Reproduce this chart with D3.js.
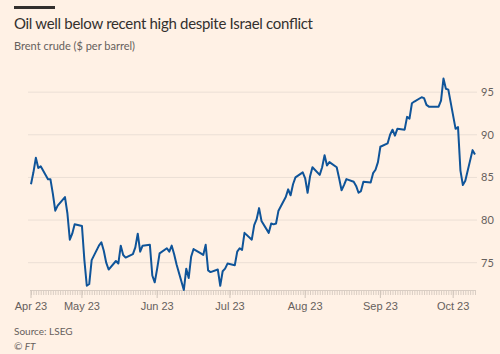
<!DOCTYPE html>
<html>
<head>
<meta charset="utf-8">
<script src="https://cdn.jsdelivr.net/npm/d3@7"></script>
<style>
  body { margin: 0; background: #fff1e5; }
  svg { display: block; font-family: Lato, "Noto Sans", sans-serif; }
  .title { font-size: 15px; fill: #33302e; }
  .subtitle { font-size: 11px; fill: #66605c; }
  .tick-label { font-size: 11px; fill: #66605c; }
  .source { font-size: 10px; fill: #66605c; }
</style>
</head>
<body>
<svg width="500" height="354"></svg>
<script>
// Brent crude, daily close ($ per barrel)
const dates = [
  '2023-04-10','2023-04-11','2023-04-12','2023-04-13','2023-04-14','2023-04-17','2023-04-18','2023-04-19','2023-04-20','2023-04-21',
  '2023-04-24','2023-04-25','2023-04-26','2023-04-27','2023-04-28','2023-05-01','2023-05-02','2023-05-03','2023-05-04','2023-05-05',
  '2023-05-08','2023-05-09','2023-05-10','2023-05-11','2023-05-12','2023-05-15','2023-05-16','2023-05-17','2023-05-18','2023-05-19',
  '2023-05-22','2023-05-23','2023-05-24','2023-05-25','2023-05-26','2023-05-29','2023-05-30','2023-05-31','2023-06-01','2023-06-02',
  '2023-06-05','2023-06-06','2023-06-07','2023-06-08','2023-06-09','2023-06-12','2023-06-13','2023-06-14','2023-06-15','2023-06-16',
  '2023-06-19','2023-06-20','2023-06-21','2023-06-22','2023-06-23','2023-06-26','2023-06-27','2023-06-28','2023-06-29','2023-06-30',
  '2023-07-03','2023-07-04','2023-07-05','2023-07-06','2023-07-07','2023-07-10','2023-07-11','2023-07-12','2023-07-13','2023-07-14',
  '2023-07-17','2023-07-18','2023-07-19','2023-07-20','2023-07-21','2023-07-24','2023-07-25','2023-07-26','2023-07-27','2023-07-28',
  '2023-07-31','2023-08-01','2023-08-02','2023-08-03','2023-08-04','2023-08-07','2023-08-08','2023-08-09','2023-08-10','2023-08-11',
  '2023-08-14','2023-08-15','2023-08-16','2023-08-17','2023-08-18','2023-08-21','2023-08-22','2023-08-23','2023-08-24','2023-08-25',
  '2023-08-28','2023-08-29','2023-08-30','2023-08-31','2023-09-01','2023-09-04','2023-09-05','2023-09-06','2023-09-07','2023-09-08',
  '2023-09-11','2023-09-12','2023-09-13','2023-09-14','2023-09-15','2023-09-18','2023-09-19','2023-09-20','2023-09-21','2023-09-22',
  '2023-09-25','2023-09-26','2023-09-27','2023-09-28','2023-09-29','2023-10-02','2023-10-03','2023-10-04','2023-10-05','2023-10-06',
  '2023-10-09','2023-10-10'
];
const prices = [
  84.2, 85.6, 87.3, 86.1, 86.3, 84.8, 84.8, 83.1, 81.1, 81.7,
  82.7, 80.8, 77.7, 78.4, 79.5, 79.3, 75.3, 72.3, 72.5, 75.3,
  77.0, 77.4, 76.4, 75.0, 74.2, 75.2, 74.9, 77.0, 75.9, 75.6,
  76.0, 76.8, 78.4, 76.3, 77.0, 77.1, 73.5, 72.7, 74.3, 76.1,
  76.7, 76.3, 77.0, 76.0, 74.8, 71.8, 74.3, 73.2, 75.7, 76.6,
  76.1, 75.9, 77.1, 74.1, 73.9, 74.2, 72.3, 74.0, 74.3, 74.9,
  74.7, 76.3, 76.7, 76.5, 78.5, 77.7, 79.4, 80.1, 81.4, 79.9,
  78.5, 79.6, 79.5, 79.6, 81.1, 82.7, 83.6, 82.9, 84.2, 85.0,
  85.6, 84.9, 83.2, 85.1, 86.2, 85.3, 86.2, 87.6, 86.4, 86.8,
  86.2, 84.9, 83.5, 84.1, 84.8, 84.5, 84.0, 83.2, 83.4, 84.5,
  84.4, 85.5, 85.9, 86.8, 88.6, 89.0, 90.0, 90.6, 89.9, 90.7,
  90.6, 92.1, 91.9, 93.7, 93.9, 94.4, 94.3, 93.5, 93.3, 93.3,
  93.3, 94.0, 96.6, 95.4, 95.3, 90.7, 90.9, 85.8, 84.1, 84.6,
  88.2, 87.7
];
const yTicks = [75, 80, 85, 90, 95];
const monthTicks = ['2023-04-10','2023-05-01','2023-06-01','2023-07-01','2023-08-01','2023-09-01','2023-10-01'];
const monthLabels = ['Apr 23','May 23','Jun 23','Jul 23','Aug 23','Sep 23','Oct 23'];

const svg = d3.select("svg");
const parseDate = d3.timeParse('%Y-%m-%d');

const render = data => {
  const xValue = d => d.date;
  const yValue = d => d.price;

  const xScale = d3.scaleTime()
    .domain(d3.extent(data, xValue))
    .range([31, 475]);

  const yScale = d3.scaleLinear()
    .domain(d3.extent(data, yValue))
    .range([290, 78.5]);

  // header
  svg.append('rect')
    .attr('x', 14).attr('y', 6)
    .attr('width', 41).attr('height', 3)
    .attr('fill', '#33302e');

  svg.append('text')
    .attr('class', 'title')
    .attr('x', 14).attr('y', 29)
    .attr('textLength', 299)
    .text('Oil well below recent high despite Israel conflict');

  svg.append('text')
    .attr('class', 'subtitle')
    .attr('x', 14).attr('y', 50)
    .text('Brent crude ($ per barrel)');

  // gridlines + right labels
  const yAxisG = svg.append('g');
  yAxisG.selectAll('line')
    .data(yTicks)
    .join('line')
      .attr('x1', 28).attr('x2', 477)
      .attr('y1', d => yScale(d)).attr('y2', d => yScale(d))
      .attr('stroke', '#ebdfd5')
      .attr('stroke-width', 1);
  yAxisG.selectAll('text')
    .data(yTicks)
    .join('text')
      .attr('class', 'tick-label')
      .attr('x', 481)
      .attr('y', d => yScale(d))
      .attr('dy', '0.35em')
      .text(d => d);

  // x axis: daily minor ticks, longer ticks at month starts
  const days = d3.timeDay.range(xScale.domain()[0], d3.timeDay.offset(xScale.domain()[1], 1));
  const xAxis = d3.axisBottom(xScale)
    .tickValues(days)
    .tickSize(5)
    .tickFormat('');
  const xAxisG = svg.append('g')
    .attr('transform', 'translate(0, 290)')
    .call(xAxis);
  xAxisG.select('.domain').attr('stroke', '#d9cdc3').attr('d', 'M30,0.5H476');
  xAxisG.selectAll('.tick line').attr('stroke', '#d9cdc3');

  const majorDates = monthTicks.map(parseDate);
  xAxisG.selectAll('.major')
    .data(majorDates)
    .join('line')
      .attr('class', 'major')
      .attr('x1', d => xScale(d)).attr('x2', d => xScale(d))
      .attr('y1', 0).attr('y2', 8)
      .attr('stroke', '#cfc3b9');

  xAxisG.selectAll('.month-label')
    .data(majorDates)
    .join('text')
      .attr('class', 'tick-label month-label')
      .attr('x', d => xScale(d))
      .attr('y', 20)
      .attr('text-anchor', 'middle')
      .text((d, i) => monthLabels[i]);

  // line
  const lineGenerator = d3.line()
    .x(d => xScale(xValue(d)))
    .y(d => yScale(yValue(d)));

  svg.append('path')
    .attr('d', lineGenerator(data))
    .attr('fill', 'none')
    .attr('stroke', '#0f5499')
    .attr('stroke-width', 2)
    .attr('stroke-linejoin', 'round');

  // footer
  svg.append('text')
    .attr('class', 'source')
    .attr('x', 14).attr('y', 335)
    .text('Source: LSEG');
  svg.append('text')
    .attr('class', 'source')
    .attr('x', 14).attr('y', 350)
    .attr('font-style', 'italic')
    .text('© FT');
};

const data = dates.map((d, i) => ({ date: parseDate(d), price: prices[i] }));
render(data);
</script>
</body>
</html>
